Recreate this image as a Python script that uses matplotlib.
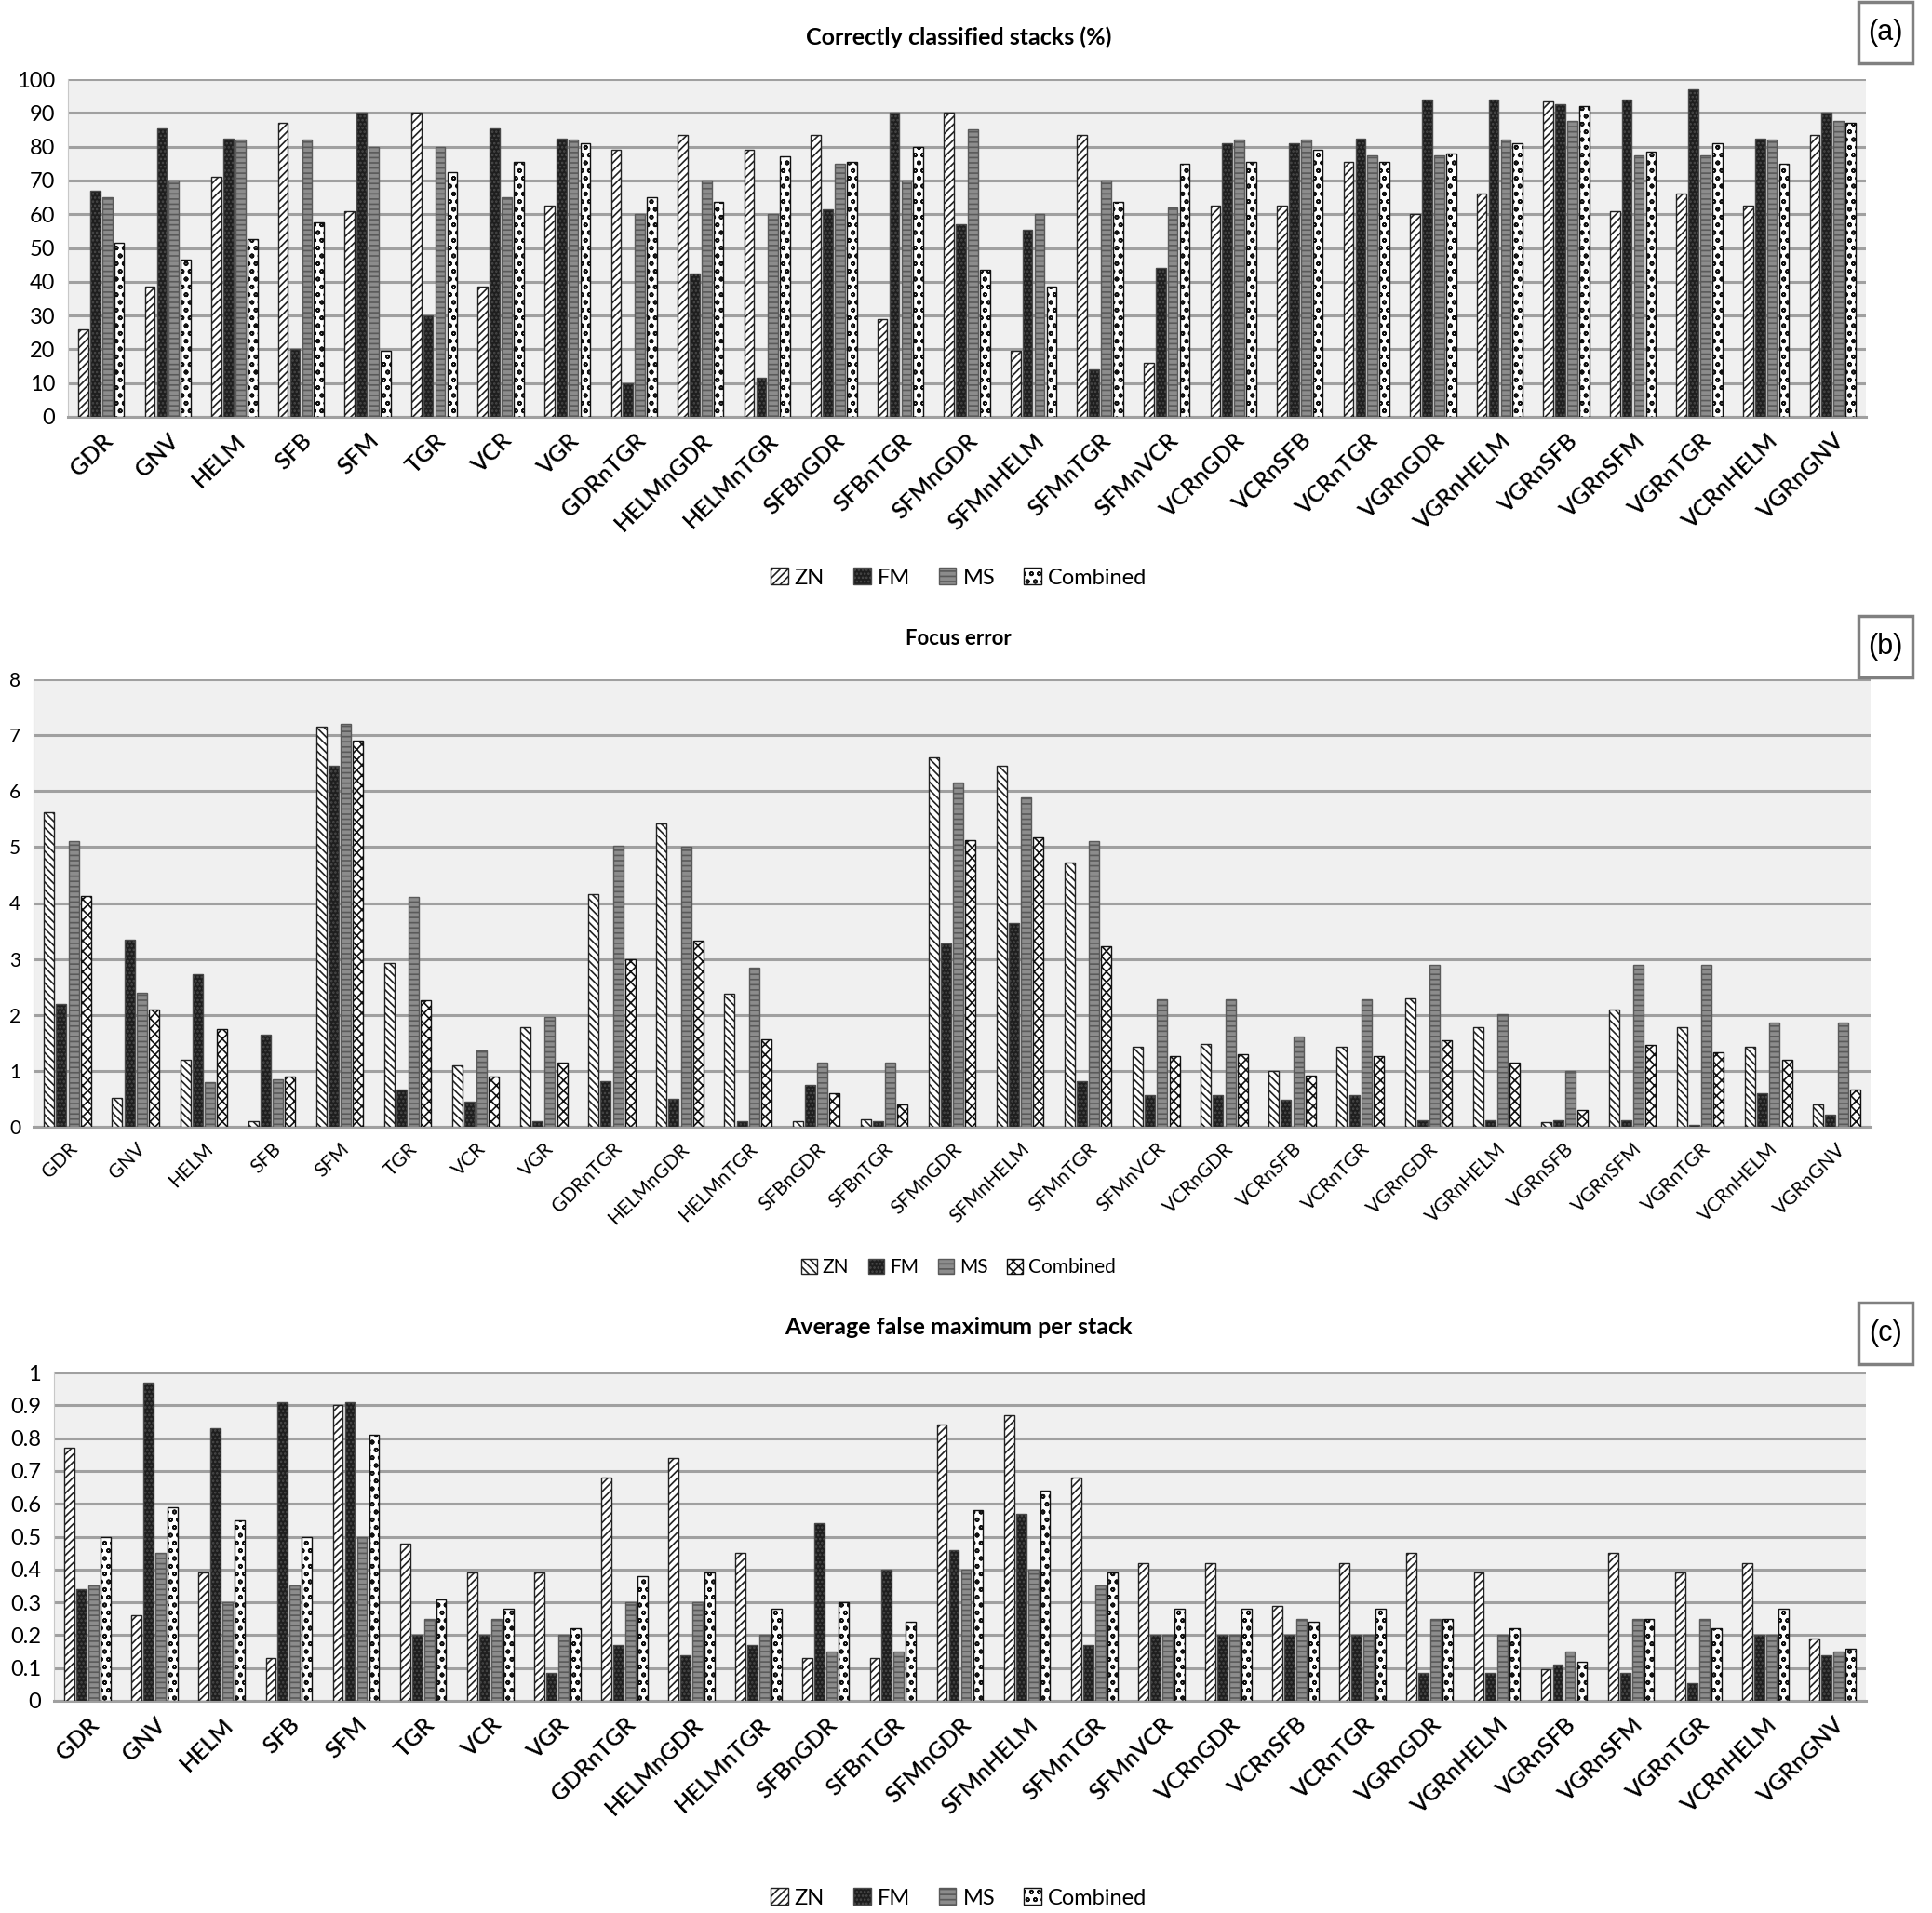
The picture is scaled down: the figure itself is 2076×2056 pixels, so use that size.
import numpy as np
import matplotlib
matplotlib.use("Agg")
import matplotlib.pyplot as plt
from matplotlib.patches import Rectangle

plt.rcParams['font.family'] = ['Lato', 'DejaVu Sans']
plt.rcParams['hatch.linewidth'] = 1.2

################################################
# data
################################################
methods = ['GDR', 'GNV', 'HELM', 'SFB', 'SFM', 'TGR', 'VCR', 'VGR',
           'GDRnTGR', 'HELMnGDR', 'HELMnTGR', 'SFBnGDR', 'SFBnTGR',
           'SFMnGDR', 'SFMnHELM', 'SFMnTGR', 'SFMnVCR', 'VCRnGDR',
           'VCRnSFB', 'VCRnTGR', 'VGRnGDR', 'VGRnHELM', 'VGRnSFB',
           'VGRnSFM', 'VGRnTGR', 'VCRnHELM', 'VGRnGNV']
series_names = ['ZN', 'FM', 'MS', 'Combined']

# (a) correctly classified stacks (%)
a_zn = [26, 38.5, 71, 87, 61, 90, 38.5, 62.5, 79, 83.5, 79, 83.5, 29, 90, 19.5,
        83.5, 16, 62.5, 62.5, 75.5, 60, 66, 93.5, 61, 66, 62.5, 83.5]
a_fm = [67, 85.5, 82.5, 20, 90, 30, 85.5, 82.5, 10, 42.5, 11.5, 61.5, 90, 57,
        55.5, 14, 44, 81, 81, 82.5, 94, 94, 92.5, 94, 97, 82.5, 90]
a_ms = [65, 70, 82, 82, 80, 80, 65, 82, 60, 70, 60, 75, 70, 85, 60, 70, 62,
        82, 82, 77.5, 77.5, 82, 87.5, 77.5, 77.5, 82, 87.5]
a_comb = [51.5, 46.5, 52.5, 57.5, 19.5, 72.5, 75.5, 81, 65, 63.5, 77, 75.5, 80,
          43.5, 38.5, 63.5, 75, 75.5, 79, 75.5, 78, 81, 92, 78.5, 81, 75, 87]

# (b) focus error
b_zn = [5.62, 0.52, 1.2, 0.1, 7.15, 2.92, 1.1, 1.78, 4.15, 5.43, 2.38, 0.1, 0.13,
        6.6, 6.45, 4.72, 1.43, 1.48, 1.0, 1.43, 2.3, 1.78, 0.08, 2.1, 1.78, 1.43, 0.4]
b_fm = [2.2, 3.35, 2.73, 1.65, 6.45, 0.67, 0.45, 0.1, 0.82, 0.5, 0.1, 0.75, 0.1,
        3.27, 3.65, 0.82, 0.57, 0.57, 0.48, 0.57, 0.12, 0.12, 0.12, 0.12, 0.03, 0.6, 0.22]
b_ms = [5.1, 2.4, 0.8, 0.85, 7.2, 4.1, 1.37, 1.97, 5.03, 5.0, 2.85, 1.15, 1.15,
        6.15, 5.88, 5.1, 2.28, 2.28, 1.62, 2.28, 2.9, 2.02, 1.0, 2.9, 2.9, 1.87, 1.87]
b_comb = [4.12, 2.1, 1.75, 0.9, 6.9, 2.27, 0.9, 1.15, 3.0, 3.33, 1.57, 0.6, 0.4,
          5.12, 5.17, 3.23, 1.27, 1.3, 0.92, 1.27, 1.55, 1.15, 0.3, 1.47, 1.33, 1.2, 0.67]

# (c) average false maximum per stack
c_zn = [0.77, 0.26, 0.39, 0.13, 0.90, 0.48, 0.39, 0.39, 0.68, 0.74, 0.45, 0.13, 0.13,
        0.84, 0.87, 0.68, 0.42, 0.42, 0.29, 0.42, 0.45, 0.39, 0.095, 0.45, 0.39, 0.42, 0.19]
c_fm = [0.34, 0.97, 0.83, 0.91, 0.91, 0.20, 0.20, 0.085, 0.17, 0.14, 0.17, 0.54, 0.40,
        0.46, 0.57, 0.17, 0.20, 0.20, 0.20, 0.20, 0.085, 0.085, 0.11, 0.085, 0.055, 0.20, 0.14]
c_ms = [0.35, 0.45, 0.30, 0.35, 0.50, 0.25, 0.25, 0.20, 0.30, 0.30, 0.20, 0.15, 0.15,
        0.40, 0.40, 0.35, 0.20, 0.20, 0.25, 0.20, 0.25, 0.20, 0.15, 0.25, 0.25, 0.20, 0.15]
c_comb = [0.50, 0.59, 0.55, 0.50, 0.81, 0.31, 0.28, 0.22, 0.38, 0.39, 0.28, 0.30, 0.24,
          0.58, 0.64, 0.39, 0.28, 0.28, 0.24, 0.28, 0.25, 0.22, 0.12, 0.25, 0.22, 0.28, 0.16]

################################################
# figure
################################################
W, H = 2076, 2056
fig = plt.figure(figsize=(W / 100, H / 100), dpi=100)


def px_axes(left, right, top, bottom):
    return fig.add_axes([left / W, 1 - bottom / H, (right - left) / W, (bottom - top) / H])


def draw_panel(ax, data, ymax, ystep, zn_hatch, comb_hatch, yfmt, tick_fs, xl_fs, rot):
    x = np.arange(len(methods))
    bw = 0.15
    offs = [-0.27, -0.09, 0.09, 0.27]
    styles = [dict(facecolor='white', edgecolor='#222222', hatch=zn_hatch),
              dict(facecolor='#1e1e1e', edgecolor='#4a4a4a', hatch='....'),
              dict(facecolor='#8c8c8c', edgecolor='#5a5a5a', hatch='---'),
              dict(facecolor='white', edgecolor='#111111', hatch=comb_hatch)]
    for vals, off, st, name in zip(data, offs, styles, series_names):
        ax.bar(x + off, vals, bw, linewidth=1.0, label=name, zorder=3, **st)
    ax.set_facecolor('#f0f0f0')
    ax.set_xlim(-0.5, len(methods) - 0.5)
    ax.set_ylim(0, ymax)
    ticks = np.arange(0, ymax + ystep / 2, ystep)
    ax.set_yticks(ticks)
    ax.set_yticklabels([yfmt(t) for t in ticks], fontsize=tick_fs)
    ax.yaxis.grid(True, color='#a0a0a0', linewidth=2.2, zorder=0)
    ax.set_axisbelow(True)
    ax.set_xticks(x)
    ax.set_xticklabels(methods, rotation=rot, ha='right', rotation_mode='anchor',
                       fontsize=xl_fs)
    ax.tick_params(length=0, pad=10)
    for s in ['top', 'right']:
        ax.spines[s].set_visible(False)
    ax.spines['left'].set_color('#c8c8c8')
    ax.spines['bottom'].set_color('#a0a0a0')
    ax.spines['bottom'].set_linewidth(2.2)


def label_box(txt, top):
    fig.patches.append(Rectangle((1997 / W, 1 - (top + 66) / H), 58 / W, 66 / H,
                                 transform=fig.transFigure, facecolor='white',
                                 edgecolor='#808080', linewidth=2.5))
    fig.text(2026 / W, 1 - (top + 33) / H, txt, ha='center', va='center',
             fontsize=22, family=['Liberation Sans', 'DejaVu Sans'])


# panel (a)
ax_a = px_axes(73, 2005, 85, 448)
draw_panel(ax_a, [a_zn, a_fm, a_ms, a_comb], 100, 10, '////', 'oo',
           lambda t: '%d' % t, 17, 18, 45)
for lab in ax_a.get_xticklabels():
    lab.set_fontweight('semibold')
fig.text(1030 / W, 1 - 40 / H, 'Correctly classified stacks (%)', ha='center',
         va='center', fontsize=18, fontweight='bold')
ax_a.legend(loc='center', bbox_to_anchor=(1030 / W, 1 - 621 / H),
            bbox_transform=fig.transFigure, ncol=4, frameon=False, fontsize=17,
            handlelength=0.8, handleheight=0.8, handletextpad=0.3, columnspacing=1.3)
label_box('(a)', 2)

# panel (b)
ax_b = px_axes(36, 2010, 730, 1211)
draw_panel(ax_b, [b_zn, b_fm, b_ms, b_comb], 8, 1, '\\\\\\\\', 'xxx',
           lambda t: '%d' % t, 15, 15, 45)
fig.text(1030 / W, 1 - 687 / H, 'Focus error', ha='center', va='center',
         fontsize=16, fontweight='bold')
ax_b.legend(loc='center', bbox_to_anchor=(1030 / W, 1 - 1362 / H),
            bbox_transform=fig.transFigure, ncol=4, frameon=False, fontsize=15,
            handlelength=0.8, handleheight=0.8, handletextpad=0.3, columnspacing=1.0)
label_box('(b)', 662)

# panel (c)
ax_c = px_axes(58, 2005, 1475, 1828)
draw_panel(ax_c, [c_zn, c_fm, c_ms, c_comb], 1, 0.1, '////', 'oo',
           lambda t: ('%g' % round(t, 1)), 17, 18, 45)
for lab in ax_c.get_xticklabels():
    lab.set_fontweight('semibold')
fig.text(1030 / W, 1 - 1427 / H, 'Average false maximum per stack', ha='center',
         va='center', fontsize=18, fontweight='bold')
ax_c.legend(loc='center', bbox_to_anchor=(1030 / W, 1 - 2040 / H),
            bbox_transform=fig.transFigure, ncol=4, frameon=False, fontsize=17,
            handlelength=0.8, handleheight=0.8, handletextpad=0.3, columnspacing=1.3)
label_box('(c)', 1400)

fig.savefig('out.png', dpi=100)
